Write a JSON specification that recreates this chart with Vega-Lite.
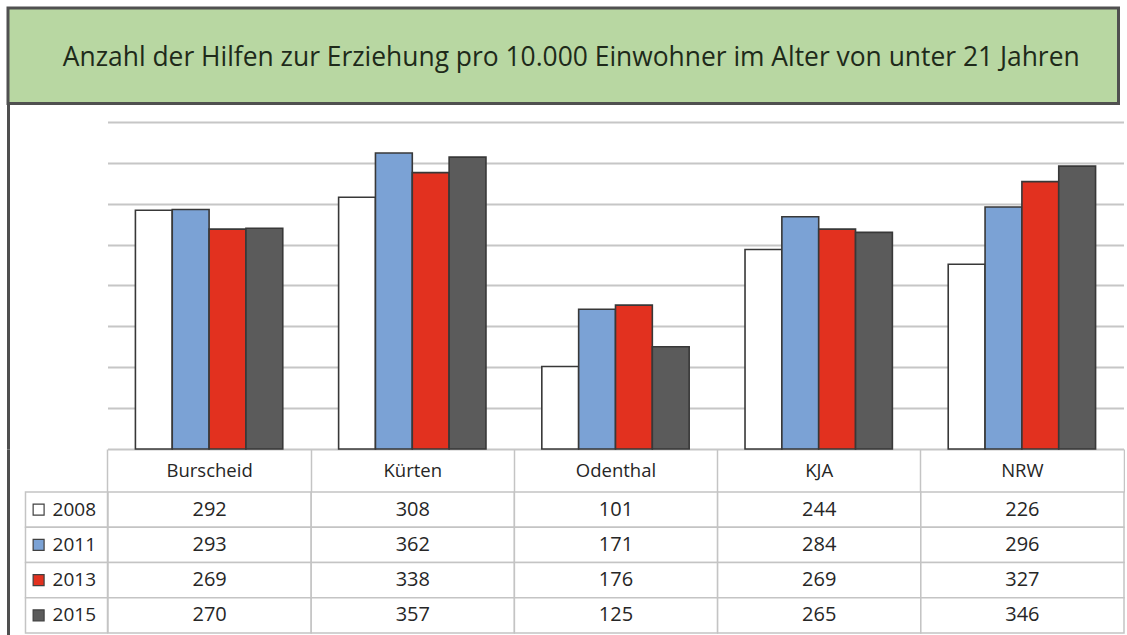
{
  "$schema": "https://vega.github.io/schema/vega-lite/v6.json",
  "padding": {"left": 6, "top": 6, "right": 0, "bottom": 0},
  "background": "white",
  "spacing": 0,
  "bounds": "flush",
  "datasets": {
    "titel": [{"t": "Anzahl der Hilfen zur Erziehung pro 10.000 Einwohner im Alter von unter 21 Jahren"}],
    "hilfen": [
      {"Ort": "Burscheid", "Jahr": "2008", "Wert": 292},
      {"Ort": "Burscheid", "Jahr": "2011", "Wert": 293},
      {"Ort": "Burscheid", "Jahr": "2013", "Wert": 269},
      {"Ort": "Burscheid", "Jahr": "2015", "Wert": 270},
      {"Ort": "Kürten", "Jahr": "2008", "Wert": 308},
      {"Ort": "Kürten", "Jahr": "2011", "Wert": 362},
      {"Ort": "Kürten", "Jahr": "2013", "Wert": 338},
      {"Ort": "Kürten", "Jahr": "2015", "Wert": 357},
      {"Ort": "Odenthal", "Jahr": "2008", "Wert": 101},
      {"Ort": "Odenthal", "Jahr": "2011", "Wert": 171},
      {"Ort": "Odenthal", "Jahr": "2013", "Wert": 176},
      {"Ort": "Odenthal", "Jahr": "2015", "Wert": 125},
      {"Ort": "KJA", "Jahr": "2008", "Wert": 244},
      {"Ort": "KJA", "Jahr": "2011", "Wert": 284},
      {"Ort": "KJA", "Jahr": "2013", "Wert": 269},
      {"Ort": "KJA", "Jahr": "2015", "Wert": 265},
      {"Ort": "NRW", "Jahr": "2008", "Wert": 226},
      {"Ort": "NRW", "Jahr": "2011", "Wert": 296},
      {"Ort": "NRW", "Jahr": "2013", "Wert": 327},
      {"Ort": "NRW", "Jahr": "2015", "Wert": 346}
    ]
  },
  "config": {"font": "Open Sans", "view": {"stroke": null}, "concat": {"spacing": 0}},
  "vconcat": [
    {
      "width": 1110.5,
      "height": 95.5,
      "data": {"name": "titel"},
      "view": {"fill": "#b8d7a2", "stroke": "#505050", "strokeWidth": 3},
      "mark": {"type": "text", "fontSize": 26.4, "color": "#1e2a1a", "font": "Open Sans", "dy": 2, "dx": 8},
      "encoding": {"text": {"field": "t", "type": "nominal"}}
    },
    {
      "width": 1115.5,
      "height": 345,
      "data": {"name": "hilfen"},
      "encoding": {
        "x": {
          "field": "Ort", "type": "nominal",
          "sort": ["Burscheid", "Kürten", "Odenthal", "KJA", "NRW"],
          "scale": {"paddingInner": 0, "paddingOuter": 0.2448, "align": 1},
          "axis": {
            "orient": "bottom", "title": null, "domain": false, "grid": false,
            "tickBand": "extent", "tickSize": 43, "tickColor": "#c4c4c4", "tickWidth": 1.5,
            "labelFontSize": 18.5, "labelColor": "#262626", "labelBaseline": "middle",
            "labelPadding": -21.5, "labelAngle": 0
          }
        },
        "xOffset": {
          "field": "Jahr", "type": "nominal",
          "sort": ["2008", "2011", "2013", "2015"],
          "scale": {"paddingInner": 0, "paddingOuter": 0.758}
        }
      },
      "layer": [
        {
          "mark": {"type": "bar", "opacity": 0},
          "encoding": {
            "y": {
              "field": "Wert", "type": "quantitative",
              "scale": {"domain": [0, 422.0], "nice": false},
              "axis": {
                "orient": "right", "values": [0, 50, 100, 150, 200, 250, 300, 350, 400],
                "tickSize": -1016, "tickColor": "#c6c6c6", "tickWidth": 2,
                "labels": false, "domain": false, "grid": false, "title": null
              }
            }
          }
        },
        {
          "mark": {"type": "bar", "stroke": "#383838", "strokeWidth": 1.6},
          "encoding": {
            "y": {
              "field": "Wert", "type": "quantitative",
              "scale": {"domain": [0, 422.0], "nice": false},
              "axis": {
                "orient": "left", "domain": true, "domainColor": "#4f4f4f", "domainWidth": 3,
                "ticks": false, "labels": false, "grid": false, "title": null
              }
            },
            "color": {
              "field": "Jahr", "type": "nominal",
              "scale": {"domain": ["2008", "2011", "2013", "2015"], "range": ["#ffffff", "#7ba2d5", "#e2311f", "#5b5b5b"]},
              "legend": null
            }
          }
        }
      ],
      "resolve": {"axis": {"y": "independent"}}
    },
    {
      "bounds": "flush",
      "spacing": 0,
      "hconcat": [
        {
          "width": 99.5,
          "height": 187,
          "data": {"name": "hilfen"},
          "transform": [{"filter": {"field": "Ort", "equal": "Burscheid"}}],
          "encoding": {
            "y": {
              "field": "Jahr", "type": "nominal",
              "sort": ["2008", "2011", "2013", "2015"],
              "scale": {"paddingInner": 0, "paddingOuter": 0.6525, "align": 0.935},
              "axis": {
                "orient": "left", "domain": true, "domainColor": "#4f4f4f", "domainWidth": 3,
                "ticks": false, "labels": false, "grid": false, "title": null
              }
            }
          },
          "layer": [
            {
              "mark": {"type": "rect", "fill": "white", "stroke": "#c4c4c4", "strokeWidth": 1.5},
              "encoding": {
                "x": {
                  "datum": "Legende", "type": "nominal",
                  "scale": {"paddingInner": 0, "paddingOuter": 0.1067, "align": 1},
                  "axis": null
                }
              }
            },
            {
              "mark": {"type": "text", "fontSize": 19, "color": "#262626", "align": "right"},
              "encoding": {
                "x": {"datum": "Legende", "type": "nominal", "bandPosition": 0.86},
                "text": {"field": "Jahr", "type": "nominal"}
              }
            },
            {
              "mark": {"type": "point", "shape": "square", "filled": true, "size": 120, "stroke": "#404040", "strokeWidth": 1.2, "opacity": 1},
              "encoding": {
                "x": {"datum": "Legende", "type": "nominal", "bandPosition": 0.16},
                "color": {
                  "field": "Jahr", "type": "nominal",
                  "scale": {"domain": ["2008", "2011", "2013", "2015"], "range": ["#ffffff", "#7ba2d5", "#e2311f", "#5b5b5b"]},
                  "legend": null
                }
              }
            }
          ]
        },
        {
          "width": 1016,
          "height": 187,
          "data": {"name": "hilfen"},
          "encoding": {
            "x": {
              "field": "Ort", "type": "nominal",
              "sort": ["Burscheid", "Kürten", "Odenthal", "KJA", "NRW"],
              "scale": {"paddingInner": 0, "paddingOuter": 0},
              "axis": null
            },
            "y": {
              "field": "Jahr", "type": "nominal",
              "sort": ["2008", "2011", "2013", "2015"],
              "scale": {"paddingInner": 0, "paddingOuter": 0.6525, "align": 0.935},
              "axis": null
            }
          },
          "layer": [
            {"mark": {"type": "rect", "fill": "white", "stroke": "#c4c4c4", "strokeWidth": 1.5}},
            {
              "mark": {"type": "text", "fontSize": 20, "color": "#262626"},
              "encoding": {"text": {"field": "Wert", "type": "quantitative"}}
            }
          ]
        }
      ]
    }
  ]
}
